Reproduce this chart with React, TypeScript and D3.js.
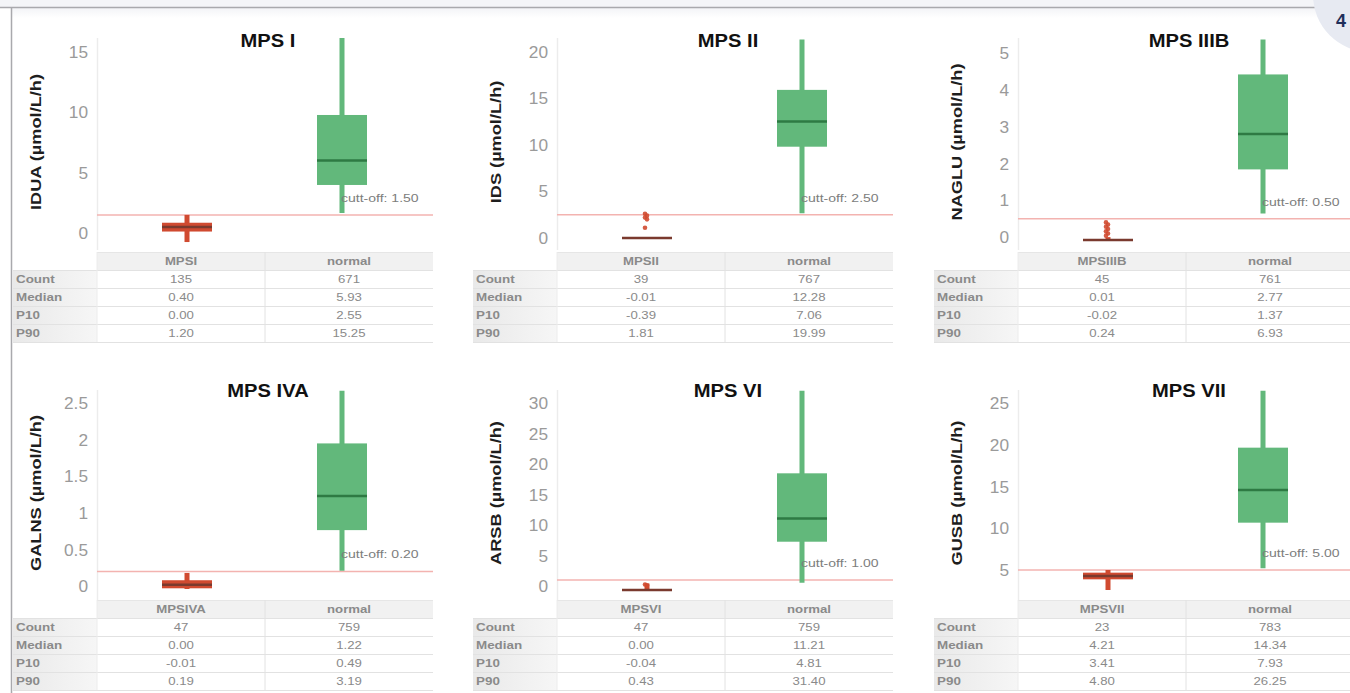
import React from "react";
import * as d3 from "d3";

// ---------- data ----------
const titles = ["MPS I", "MPS II", "MPS IIIB", "MPS IVA", "MPS VI", "MPS VII"];
const yLabels = [
  "IDUA (µmol/L/h)",
  "IDS (µmol/L/h)",
  "NAGLU (µmol/L/h)",
  "GALNS (µmol/L/h)",
  "ARSB (µmol/L/h)",
  "GUSB (µmol/L/h)",
];
const diseaseCats = ["MPSI", "MPSII", "MPSIIIB", "MPSIVA", "MPSVI", "MPSVII"];
const normalCat = "normal";
const cutoffs = [1.5, 2.5, 0.5, 0.2, 1.0, 5.0];
const yDomains: [number, number][] = [
  [-1.41, 16.16],
  [-1.29, 21.47],
  [-0.35, 5.41],
  [-0.19, 2.68],
  [-2.3, 32.18],
  [1.4, 26.6],
];
const yTicks = [
  [0, 5, 10, 15],
  [0, 5, 10, 15, 20],
  [0, 1, 2, 3, 4, 5],
  [0, 0.5, 1, 1.5, 2, 2.5],
  [0, 5, 10, 15, 20, 25, 30],
  [5, 10, 15, 20, 25],
];
// [low whisker, q1, median, q3, high whisker]
const diseaseBoxes = [
  [-0.75, 0.12, 0.5, 0.85, 1.5],
  [-0.06, -0.03, 0.0, 0.03, 0.1],
  [-0.1, -0.1, -0.08, -0.06, 0.0],
  [-0.04, -0.03, 0.02, 0.08, 0.18],
  [-0.7, -0.68, -0.65, -0.62, 0.4],
  [2.6, 3.88, 4.28, 4.68, 5.0],
];
const normalBoxes = [
  [1.66, 3.98, 6.0, 9.78, 16.15],
  [2.65, 9.8, 12.5, 15.9, 21.3],
  [0.64, 1.84, 2.8, 4.42, 5.37],
  [0.21, 0.765, 1.23, 1.95, 2.67],
  [0.54, 7.27, 11.1, 18.5, 32.07],
  [5.2, 10.68, 14.6, 19.68, 26.5],
];
const diseaseOutliers = [
  [],
  [2.6, 2.4, 2.2, 2.0, 1.1],
  [0.4, 0.34, 0.28, 0.22, 0.16, 0.1, 0.04],
  [],
  [0.25, 0.1],
  [],
];
const rowLabels = ["Count", "Median", "P10", "P90"];
const counts = [["135", "671"], ["39", "767"], ["45", "761"], ["47", "759"], ["47", "759"], ["23", "783"]];
const medians = [["0.40", "5.93"], ["-0.01", "12.28"], ["0.01", "2.77"], ["0.00", "1.22"], ["0.00", "11.21"], ["4.21", "14.34"]];
const p10s = [["0.00", "2.55"], ["-0.39", "7.06"], ["-0.02", "1.37"], ["-0.01", "0.49"], ["-0.04", "4.81"], ["3.41", "7.93"]];
const p90s = [["1.20", "15.25"], ["1.81", "19.99"], ["0.24", "6.93"], ["0.19", "3.19"], ["0.43", "31.40"], ["4.80", "26.25"]];

// ---------- layout ----------
const W = 1350;
const H = 693;
const colLeft = [97, 557, 1018];
const rowPlot = [
  { top: 38, bottom: 250, title: 40, table: 252 },
  { top: 390, bottom: 600, title: 390, table: 600 },
];
const plotW = 336;
const boxW = 50;
const rowH = 18;

const GREEN = "#62b87b";
const GREEN_DARK = "#2e7a43";
const RED = "#d04a30";
const RED_DARK = "#7a3a2e";
const FONT = "Arial, 'Liberation Sans', Helvetica, sans-serif";

function T(props: {
  x: number;
  y: number;
  sx?: number;
  anchor?: string;
  size: number;
  weight?: string | number;
  fill: string;
  children: React.ReactNode;
  rotate?: number;
}) {
  const { x, y, sx = 1, anchor = "start", size, weight = "normal", fill, children, rotate } = props;
  const tr = rotate ? `translate(${x},${y}) rotate(${rotate}) scale(${sx},1)` : `translate(${x},${y}) scale(${sx},1)`;
  return (
    <text
      transform={tr}
      textAnchor={anchor as any}
      fontSize={size}
      fontWeight={weight as any}
      fill={fill}
      fontFamily={FONT}
    >
      {children}
    </text>
  );
}

function Box(props: { x: number; y: d3.ScaleLinear<number, number>; s: number[]; color: string; dark: string }) {
  const { x, y, s, color, dark } = props;
  const [lo, q1, med, q3, hi] = s;
  const boxTop = y(q3);
  const boxH = Math.max(1, y(q1) - y(q3));
  return (
    <g>
      <line x1={x} x2={x} y1={y(lo)} y2={y(hi)} stroke={color} strokeWidth={5} />
      <rect x={x - boxW / 2} y={boxTop} width={boxW} height={boxH} fill={color} />
      <line x1={x - boxW / 2} x2={x + boxW / 2} y1={y(med)} y2={y(med)} stroke={dark} strokeWidth={2.5} />
    </g>
  );
}

function Panel({ i }: { i: number }) {
  const col = i % 3;
  const row = Math.floor(i / 3);
  const L = colLeft[col];
  const R = rowPlot[row];
  const y = d3.scaleLinear().domain(yDomains[i]).range([R.bottom, R.top]);
  const x = d3.scalePoint<string>().domain([diseaseCats[i], normalCat]).range([L + 90, L + 245]);
  const xd = x(diseaseCats[i]) as number;
  const xn = x(normalCat) as number;
  const cy = y(cutoffs[i]);
  const tableRows = [counts[i], medians[i], p10s[i], p90s[i]];
  const tTop = R.table;
  const colMid = L + plotW / 2;
  return (
    <g>
      {/* axis line */}
      <line x1={L + 0.5} x2={L + 0.5} y1={R.top} y2={R.bottom} stroke="#ececec" strokeWidth={1.5} />
      {/* ticks */}
      {yTicks[i].map((t) => (
        <T key={t} x={L - 9} y={y(t) + 6} anchor="end" size={16} fill="#9a9a9a" sx={1.08}>
          {String(t)}
        </T>
      ))}
      {/* y label */}
      <T x={L - 56} y={(R.top + R.bottom) / 2 - 2} anchor="middle" size={14} weight="bold" fill="#1e1e1e" rotate={-90} sx={1.3}>
        {yLabels[i]}
      </T>
      {/* title */}
      <T x={L + 171} y={R.title + 7} anchor="middle" size={18} weight="bold" fill="#111" sx={1.12}>
        {titles[i]}
      </T>
      {/* cutoff */}
      <line x1={L} x2={L + plotW} y1={cy} y2={cy} stroke="#f3b3b0" strokeWidth={1.5} />
      {/* boxes */}
      <Box x={xn} y={y} s={normalBoxes[i]} color={GREEN} dark={GREEN_DARK} />
      <Box x={xd} y={y} s={diseaseBoxes[i]} color={RED} dark={RED_DARK} />
      {diseaseOutliers[i].map((v, k) => (
        <circle key={k} cx={xd - 2 + (k % 2) * 2} cy={y(v)} r={2.3} fill={RED} opacity={0.9} />
      ))}
      <T x={xn - 1} y={cy - 13} size={11.5} fill="#7d7d7d" sx={1.22}>
        {`cutt-off: ${cutoffs[i].toFixed(2)}`}
      </T>
      {/* table */}
      <rect x={L} y={tTop} width={plotW} height={rowH} fill="#f1f1f1" />
      {rowLabels.map((lab, r) => (
        <rect key={lab} x={L - 84} y={tTop + rowH * (r + 1)} width={84} height={rowH} fill={`url(#labgrad)`} />
      ))}
      {[0, 1, 2, 3, 4, 5].map((r) => (
        <line
          key={r}
          x1={r === 0 ? L : L - 84}
          x2={L + plotW}
          y1={tTop + rowH * r + 0.5}
          y2={tTop + rowH * r + 0.5}
          stroke={r === 0 ? "#e6e6e6" : "#e2e2e2"}
          strokeWidth={1}
        />
      ))}
      <line x1={colMid} x2={colMid} y1={tTop} y2={tTop + rowH * 5} stroke="#e2e2e2" strokeWidth={1} />
      <line x1={L} x2={L} y1={tTop} y2={tTop + rowH * 5} stroke="#ececec" strokeWidth={1} />
      <T x={L + plotW * 0.25} y={tTop + 13} anchor="middle" size={11} weight="bold" fill="#8a8a8a" sx={1.2}>
        {diseaseCats[i]}
      </T>
      <T x={L + plotW * 0.75} y={tTop + 13} anchor="middle" size={11} weight="bold" fill="#8a8a8a" sx={1.2}>
        {normalCat}
      </T>
      {rowLabels.map((lab, r) => (
        <g key={lab}>
          <T x={L - 81} y={tTop + rowH * (r + 1) + 13} size={11} weight="bold" fill="#8a8a8a" sx={1.22}>
            {lab}
          </T>
          <T x={L + plotW * 0.25} y={tTop + rowH * (r + 1) + 13} anchor="middle" size={11} fill="#8a8a8a" sx={1.2}>
            {tableRows[r][0]}
          </T>
          <T x={L + plotW * 0.75} y={tTop + rowH * (r + 1) + 13} anchor="middle" size={11} fill="#8a8a8a" sx={1.2}>
            {tableRows[r][1]}
          </T>
        </g>
      ))}
    </g>
  );
}

export default function App() {
  return (
    <svg
      width={W}
      height={H}
      viewBox={`0 0 ${W} ${H}`}
      style={{ position: "absolute", left: 0, top: 0, background: "#fff" }}
    >
      <defs>
        <linearGradient id="labgrad" x1="0" x2="1" y1="0" y2="0">
          <stop offset="0" stopColor="#e9e9e9" />
          <stop offset="1" stopColor="#f6f6f6" />
        </linearGradient>
        <linearGradient id="topgrad" x1="0" x2="0" y1="0" y2="1">
          <stop offset="0" stopColor="#f3f4f7" />
          <stop offset="1" stopColor="#ffffff" />
        </linearGradient>
      </defs>
      <rect x={0} y={0} width={W} height={H} fill="#fff" />
      <rect x={0} y={0} width={W} height={7} fill="#f4f5f8" />
      <rect x={12} y={8} width={W} height={10} fill="url(#topgrad)" />
      <line x1={0} x2={W} y1={7.5} y2={7.5} stroke="#a9a9ad" strokeWidth={1.5} />
      <line x1={11.5} x2={11.5} y1={7} y2={H} stroke="#a9a9ad" strokeWidth={1.5} />
      {[0, 1, 2, 3, 4, 5].map((i) => (
        <Panel key={i} i={i} />
      ))}
      <circle cx={1370} cy={-5} r={57} fill="#e7eaf2" />
      <text x={1336} y={27} fontSize={18} fontWeight="bold" fill="#1f2f5a" fontFamily={FONT}>
        4
      </text>
    </svg>
  );
}
